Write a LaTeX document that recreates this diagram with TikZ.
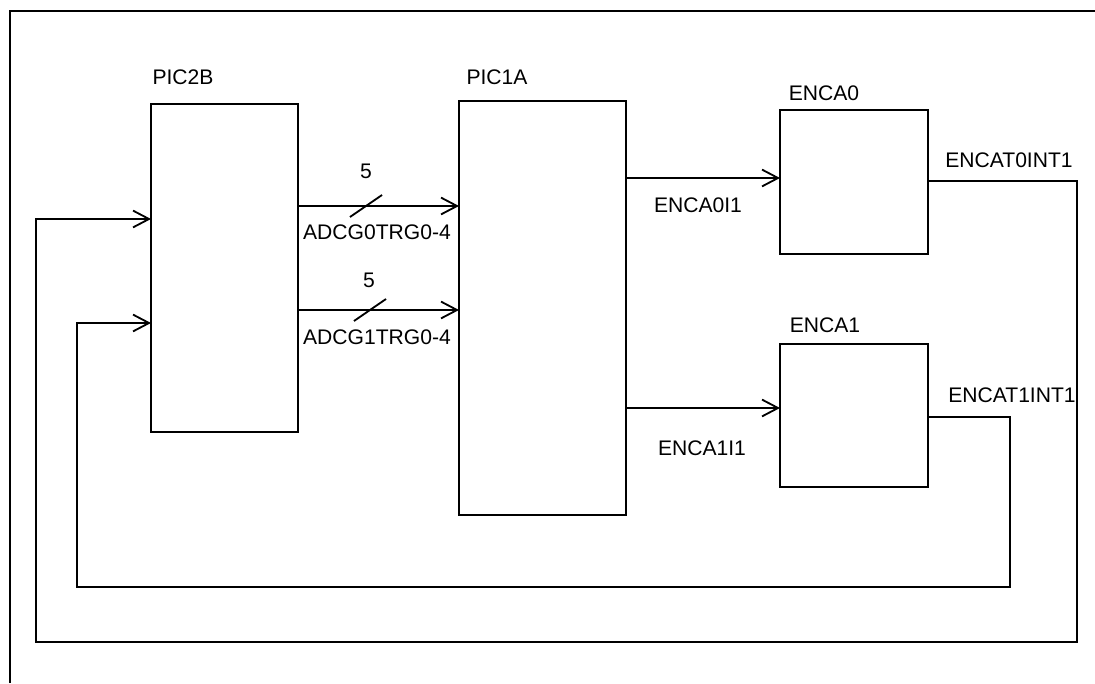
\documentclass[tikz,border=0pt]{standalone}
\usepackage{fontspec}
\setmainfont{Liberation Sans}
\usetikzlibrary{arrows.meta, positioning, calc}

\tikzset{
  blk/.style={draw, anchor=north west, inner sep=0pt, outer sep=0pt},
  lbl/.style={font=\fontsize{15}{18}\selectfont, inner sep=0pt},
  arr/.style={-{Straight Barb[length=4mm, width=4.2mm]}},
}

\begin{document}
\begin{tikzpicture}[x=0.025cm, y=-0.025cm, line width=1.3pt]
\useasboundingbox (0,0) rectangle (1095,683);
\def\px{0.025cm}

% frame
\draw (10,683) -- (10,11) -- (1095,11);

% blocks
\node[blk, minimum width=147*\px, minimum height=328*\px] (pic2b) at (151,104) {};
\node[blk, minimum width=167*\px, minimum height=414*\px] (pic1a) at (459,101) {};
\node[blk, minimum width=148*\px, minimum height=144*\px] (enca0) at (780,110) {};
\node[blk, minimum width=148*\px, minimum height=143*\px] (enca1) at (780,344) {};

\node[lbl] (pic2bname) at (183,77) {PIC2B};
\node[lbl] (pic1aname) at (497,77) {PIC1A};
\node[lbl] (enca0name) at (824,93) {ENCA0};
\node[lbl] (enca1name) at (825,325) {ENCA1};

% trigger buses
\coordinate (g0) at (0,206);
\coordinate (g1) at (0,310);
\draw[arr] (pic2b.east |- g0) -- (pic1a.west |- g0);
\draw[arr] (pic2b.east |- g1) -- (pic1a.west |- g1);
\draw ($(366,206)+(-16,11)$) -- ($(366,206)+(16,-11)$);
\draw ($(370,310)+(-16,11)$) -- ($(370,310)+(16,-11)$);
\node[lbl] (w0) at (366,171) {5};
\node[lbl] (w1) at (369,280) {5};
\node[lbl] (g0name) at (377,232) {ADCG0TRG0-4};
\node[lbl] (g1name) at (377,337) {ADCG1TRG0-4};

% encoder inputs
\coordinate (e0) at (0,178);
\coordinate (e1) at (0,408);
\draw[arr] (pic1a.east |- e0) -- (enca0.west |- e0);
\draw[arr] (pic1a.east |- e1) -- (enca1.west |- e1);
\node[lbl] (e0name) at (698,205) {ENCA0I1};
\node[lbl] (e1name) at (702,448) {ENCA1I1};

% interrupt feedback
\coordinate (t0) at (0,181);
\coordinate (t1) at (0,417);
\coordinate (b0) at (1077,642);
\coordinate (b1) at (1010,587);
\coordinate (in0) at (36,219);
\coordinate (in1) at (77,323);
\draw[arr] (enca0.east |- t0) -| (b0) -| (in0) -- (pic2b.west |- in0);
\draw[arr] (enca1.east |- t1) -| (b1) -| (in1) -- (pic2b.west |- in1);
\node[lbl] (t0name) at (1009,160) {ENCAT0INT1};
\node[lbl] (t1name) at (1012,395) {ENCAT1INT1};
\end{tikzpicture}
\end{document}
